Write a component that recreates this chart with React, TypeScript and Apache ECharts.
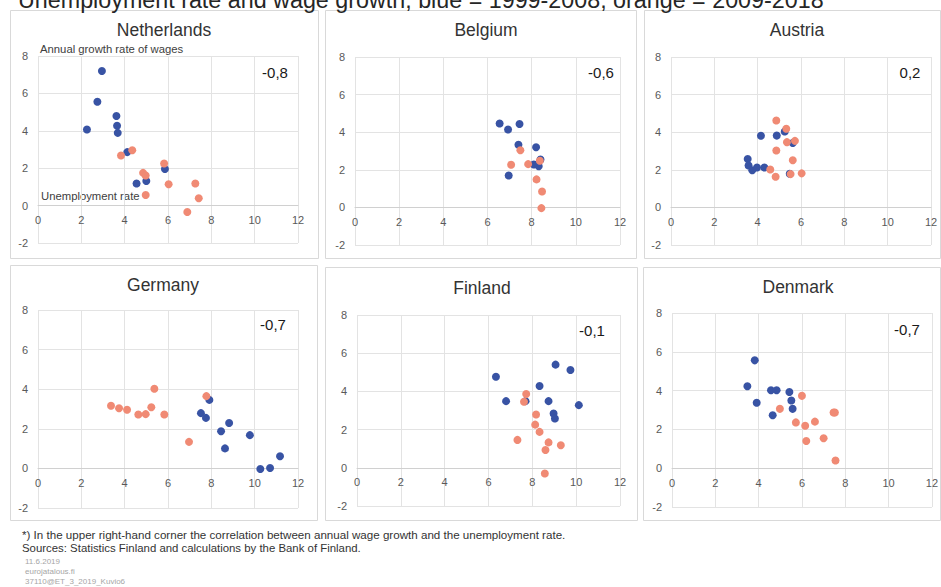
import React, { useEffect, useRef } from "react";
import * as echarts from "echarts";

// ---------- data ----------
const countries = ["Netherlands", "Belgium", "Austria", "Germany", "Finland", "Denmark"];
const correlations = ["-0,8", "-0,6", "0,2", "-0,7", "-0,1", "-0,7"];
const xMin = 0, xMax = 12, xStep = 2;
const yMin = -2, yMax = 8, yStep = 2;

const netherlandsBlue = [[2.95, 7.2], [2.74, 5.55], [2.26, 4.07], [3.62, 4.79], [3.65, 4.27], [3.68, 3.89], [4.12, 2.86], [5.86, 1.96], [4.55, 1.18], [5.0, 1.32]];
const netherlandsOrange = [[3.83, 2.68], [4.35, 2.96], [5.82, 2.25], [4.85, 1.75], [4.97, 1.61], [6.03, 1.14], [7.26, 1.18], [7.42, 0.39], [4.97, 0.57], [6.89, -0.34]];

const belgiumBlue = [[6.55, 4.46], [6.93, 4.14], [7.45, 4.44], [7.4, 3.33], [8.2, 3.2], [6.96, 1.7], [8.1, 2.28], [8.32, 2.19], [8.4, 2.55]];
const belgiumOrange = [[7.49, 3.04], [7.07, 2.27], [7.84, 2.3], [8.37, 2.48], [8.22, 1.49], [8.47, 0.85], [8.44, -0.04]];

const austriaBlue = [[3.54, 2.57], [3.58, 2.23], [3.75, 1.98], [3.97, 2.12], [4.31, 2.12], [4.15, 3.81], [4.88, 3.82], [5.25, 4.04], [5.62, 3.43], [5.48, 1.79]];
const austriaOrange = [[4.86, 4.62], [5.32, 4.18], [5.35, 3.47], [5.72, 3.54], [4.86, 3.03], [5.62, 2.51], [4.58, 2.02], [4.83, 1.63], [5.52, 1.77], [6.03, 1.81]];

const germanyBlue = [[7.91, 3.46], [7.52, 2.79], [7.75, 2.55], [8.45, 1.88], [8.82, 2.29], [8.63, 1.01], [9.78, 1.68], [10.26, -0.03], [10.71, 0.02], [11.17, 0.61]];
const germanyOrange = [[3.37, 3.16], [3.74, 3.04], [4.11, 2.96], [4.63, 2.72], [4.97, 2.74], [5.23, 3.09], [5.37, 4.02], [5.83, 2.72], [6.97, 1.34], [7.77, 3.65]];

const finlandBlue = [[6.34, 4.77], [6.8, 3.49], [7.69, 3.49], [8.33, 4.28], [9.06, 5.4], [9.74, 5.12], [8.74, 3.49], [10.12, 3.28], [8.97, 2.84], [9.03, 2.58]];
const finlandOrange = [[7.72, 3.86], [7.62, 3.46], [8.17, 2.79], [8.13, 2.26], [8.33, 1.88], [7.32, 1.46], [8.74, 1.33], [9.3, 1.18], [8.6, 0.93], [8.57, -0.3]];

const denmarkBlue = [[3.82, 5.56], [3.48, 4.22], [3.91, 3.37], [4.57, 4.02], [4.83, 4.02], [5.42, 3.93], [5.51, 3.49], [5.57, 3.06], [4.65, 2.73]];
const denmarkOrange = [[6.0, 3.73], [4.98, 3.06], [5.72, 2.36], [6.15, 2.19], [6.6, 2.4], [6.2, 1.4], [7.0, 1.54], [7.46, 2.87], [7.52, 2.87], [7.55, 0.4]];

const blueSeries = [netherlandsBlue, belgiumBlue, austriaBlue, germanyBlue, finlandBlue, denmarkBlue];
const orangeSeries = [netherlandsOrange, belgiumOrange, austriaOrange, germanyOrange, finlandOrange, denmarkOrange];

const mainTitle = "Unemployment rate and wage growth, blue = 1999-2008, orange = 2009-2018";
const yAxisNote = "Annual growth rate of wages";
const xAxisNote = "Unemployment rate";
const footnote1 = "*) In the upper right-hand corner the correlation between annual wage growth and the unemployment rate.";
const footnote2 = "Sources: Statistics Finland and calculations by the Bank of Finland.";
const stamp = ["11.6.2019", "eurojatalous.fi", "37110@ET_3_2019_Kuvio6"];

// ---------- layout ----------
const W = 941, H = 587;
const FONT = "'Liberation Sans', Arial, sans-serif";
const BLUE = "#3853a4";
const ORANGE = "#f08a74";

const grids = [
  { left: 38, top: 56, width: 260, height: 187 },
  { left: 355, top: 57, width: 265, height: 188 },
  { left: 671, top: 57, width: 260, height: 188 },
  { left: 38, top: 310, width: 260, height: 198 },
  { left: 357, top: 315, width: 263, height: 191 },
  { left: 672, top: 313, width: 260, height: 194 },
];
const boxes = [
  { x: 10, y: 10, w: 308, h: 248 },
  { x: 325, y: 10, w: 311, h: 248 },
  { x: 644, y: 10, w: 296, h: 248 },
  { x: 10, y: 265, w: 307, h: 255 },
  { x: 325, y: 267, w: 312, h: 253 },
  { x: 643, y: 267, w: 297, h: 253 },
];
const titlePos = [[164, 30], [486, 30], [797, 30], [163, 285], [482, 288], [798, 287]];
const corrPos = [[275, 72], [601, 72], [910, 72], [273, 324], [592, 330], [907, 329]];

export default function App() {
  const ref = useRef<HTMLDivElement>(null);

  useEffect(() => {
    if (!ref.current) return;
    const chart = echarts.init(ref.current, undefined, { renderer: "svg", width: W, height: H });

    const graphic: any[] = [];
    boxes.forEach((b) => {
      graphic.push({
        type: "rect",
        z: -10,
        shape: { x: b.x + 0.5, y: b.y + 0.5, width: b.w, height: b.h },
        style: { fill: "#ffffff", stroke: "#d9d9d9", lineWidth: 1 },
      });
    });
    countries.forEach((c, i) => {
      graphic.push({
        type: "text",
        x: titlePos[i][0],
        y: titlePos[i][1],
        style: { text: c, fontSize: 17.5, fontFamily: FONT, fill: "#333333", align: "center", verticalAlign: "middle" },
      });
      graphic.push({
        type: "text",
        x: corrPos[i][0],
        y: corrPos[i][1],
        style: { text: correlations[i], fontSize: 15, fontFamily: FONT, fill: "#1a1a1a", align: "center", verticalAlign: "middle" },
      });
    });
    graphic.push(
      {
        type: "text",
        x: 18,
        y: -0.5,
        style: { text: mainTitle, fontSize: 23.3, fontFamily: FONT, fill: "#262626", align: "left", verticalAlign: "middle" },
      },
      {
        type: "text",
        x: 40,
        y: 49,
        style: { text: yAxisNote, fontSize: 11.3, fontFamily: FONT, fill: "#404040", align: "left", verticalAlign: "middle" },
      },
      {
        type: "text",
        x: 41,
        y: 196,
        style: { text: xAxisNote, fontSize: 11.3, fontFamily: FONT, fill: "#404040", align: "left", verticalAlign: "middle" },
      },
      {
        type: "text",
        x: 22,
        y: 534,
        style: { text: footnote1, fontSize: 11.6, fontFamily: FONT, fill: "#333333", align: "left", verticalAlign: "middle" },
      },
      {
        type: "text",
        x: 22,
        y: 548,
        style: { text: footnote2, fontSize: 11.4, fontFamily: FONT, fill: "#333333", align: "left", verticalAlign: "middle" },
      }
    );
    stamp.forEach((s, i) => {
      graphic.push({
        type: "text",
        x: 25,
        y: 561 + i * 10,
        style: { text: s, fontSize: 8, fontFamily: FONT, fill: "#a6a6a6", align: "left", verticalAlign: "middle" },
      });
    });

    const xAxis = grids.map((g, i) => ({
      type: "value",
      gridIndex: i,
      min: xMin,
      max: xMax,
      interval: xStep,
      position: "bottom",
      // move the axis (line + labels) up to the y = 0 position
      offset: -((0 - yMin) / (yMax - yMin)) * g.height,
      axisLine: { show: true, onZero: false, lineStyle: { color: "#d0d0d0", width: 1 } },
      axisTick: { show: false },
      axisLabel: { color: "#595959", fontSize: 11, fontFamily: FONT, margin: 9 },
      splitLine: { show: true, lineStyle: { color: "#e3e3e3", width: 1 } },
    }));
    const yAxis = grids.map((_, i) => ({
      type: "value",
      gridIndex: i,
      min: yMin,
      max: yMax,
      interval: yStep,
      axisLine: { show: false },
      axisTick: { show: false },
      axisLabel: { color: "#595959", fontSize: 11, fontFamily: FONT, margin: 10 },
      splitLine: { show: true, lineStyle: { color: "#e3e3e3", width: 1 } },
    }));

    const series: any[] = [];
    grids.forEach((_, i) => {
      series.push({
        type: "scatter",
        xAxisIndex: i,
        yAxisIndex: i,
        data: blueSeries[i],
        symbolSize: 8,
        itemStyle: { color: BLUE, opacity: 1 },
        z: 3,
      });
      series.push({
        type: "scatter",
        xAxisIndex: i,
        yAxisIndex: i,
        data: orangeSeries[i],
        symbolSize: 8,
        itemStyle: { color: ORANGE, opacity: 1 },
        z: 4,
      });
    });

    chart.setOption({
      animation: false,
      backgroundColor: "#ffffff",
      textStyle: { fontFamily: FONT },
      grid: grids.map((g) => ({ ...g, containLabel: false })),
      xAxis,
      yAxis,
      series,
      graphic,
    });

    return () => chart.dispose();
  }, []);

  return (
    <div
      ref={ref}
      style={{ position: "absolute", left: 0, top: 0, width: W, height: H, overflow: "hidden" }}
    />
  );
}
